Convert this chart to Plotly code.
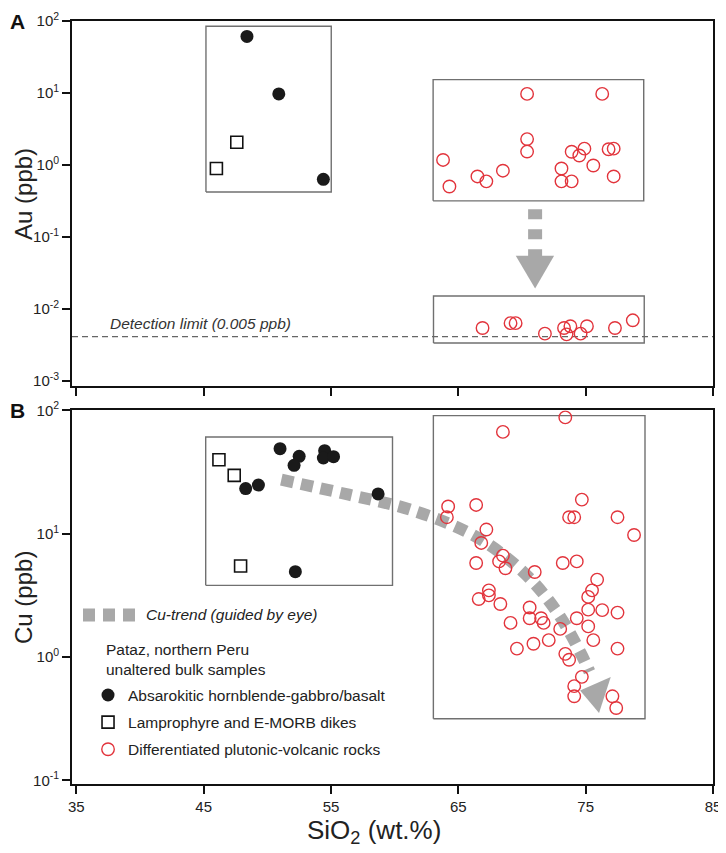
import plotly.graph_objects as go

# ---- data ----
# Panel A: Au (ppb) vs SiO2 (wt.%)
au_gabbro_sio2 = [48.4, 50.9, 54.4]
au_gabbro = [61.0, 9.7, 0.63]
au_dike_sio2 = [47.6, 46.0]
au_dike = [2.06, 0.89]
au_diff_sio2 = [63.8, 64.3, 66.5, 67.2, 68.5, 70.4, 70.4, 70.4, 73.1, 73.1,
                73.9, 73.9, 74.5, 74.9, 75.6, 76.3, 76.8, 77.2, 77.2,
                66.9, 69.1, 69.5, 71.8, 73.3, 73.5, 73.8, 74.6, 75.1, 77.3, 78.7]
au_diff = [1.17, 0.50, 0.69, 0.59, 0.83, 9.7, 2.28, 1.53, 0.89, 0.59,
           0.59, 1.52, 1.35, 1.68, 0.98, 9.7, 1.65, 1.68, 0.69,
           0.0054, 0.0063, 0.0063, 0.0045, 0.0054, 0.0044, 0.0057, 0.0045, 0.0057, 0.0054, 0.0069]
detection_limit = 0.0041

# Panel B: Cu (ppb) vs SiO2 (wt.%)
cu_gabbro_sio2 = [51.0, 52.5, 52.1, 48.3, 49.3, 54.5, 54.4, 55.2, 58.7, 52.2]
cu_gabbro = [48.9, 42.4, 35.8, 23.2, 24.8, 47.1, 41.1, 42.1, 21.0, 4.92]
cu_dike_sio2 = [46.2, 47.4, 47.9]
cu_dike = [39.8, 29.7, 5.47]
cu_diff_sio2 = [73.4, 68.5, 64.2, 66.4, 64.1, 74.7, 73.7, 74.1, 77.5, 78.8,
                67.2, 66.8, 68.5, 68.2, 66.4, 68.7, 71.0, 73.2, 74.3, 75.9,
                75.5, 75.2, 67.4, 67.4, 66.6, 68.3, 70.6, 75.2, 76.3, 77.5,
                69.1, 70.6, 71.5, 71.7, 74.3, 73.0, 75.2, 70.9, 72.1, 75.6,
                69.6, 73.4, 73.7, 77.5, 74.7, 74.1, 74.1, 77.1, 77.4]
cu_diff = [87.7, 66.9, 16.6, 17.1, 13.6, 18.9, 13.6, 13.6, 13.6, 9.75,
           10.8, 8.41, 6.64, 5.96, 5.78, 5.24, 4.89, 5.78, 5.96, 4.24,
           3.47, 3.07, 3.47, 3.16, 2.95, 2.69, 2.52, 2.42, 2.40, 2.29,
           1.89, 2.06, 2.06, 1.89, 2.06, 1.69, 1.77, 1.28, 1.37, 1.37,
           1.17, 1.06, 0.95, 1.17, 0.69, 0.58, 0.48, 0.48, 0.386]

# Cu trend (guided by eye)
trend_sio2 = [51.1, 56.4, 61.2, 65.8, 68.6, 71.0, 73.0, 74.6, 75.3]
trend_cu = [27.4, 20.7, 15.7, 10.2, 6.63, 3.93, 2.12, 1.08, 0.76]
trend_head_sio2 = [74.56, 76.97, 76.05]
trend_head_cu = [0.536, 0.689, 0.351]

# Au shift arrow (upper group -> detection limit)
shift_sio2 = [71.03, 71.03]
shift_au = [0.241, 0.054]
shift_head_sio2 = [69.51, 72.52, 71.03]
shift_head_au = [0.0543, 0.0543, 0.0191]

# group outlines: (x0, x1, y0, y1)
boxes_a = [(45.18, 55.02, 0.42, 84.5), (63.02, 79.56, 0.316, 15.3), (63.05, 79.6, 0.00334, 0.01503)]
boxes_b = [(45.16, 59.83, 3.81, 60.8), (63.04, 79.66, 0.316, 90.6)]

sio2_ticks = [35, 45, 55, 65, 75, 85]
au_tickvals = [0.001, 0.01, 0.1, 1, 10, 100]
au_ticktext = ["10<sup>-3</sup>", "10<sup>-2</sup>", "10<sup>-1</sup>", "10<sup>0</sup>", "10<sup>1</sup>", "10<sup>2</sup>"]
cu_tickvals = [0.1, 1, 10, 100]
cu_ticktext = ["10<sup>-1</sup>", "10<sup>0</sup>", "10<sup>1</sup>", "10<sup>2</sup>"]

FONT = "Liberation Sans, Arial, sans-serif"
RED = "#e2343c"
GREY = "#a8a8a8"
BOX = "#707070"
X_RANGE = [34.66, 85]

fig = go.Figure()


def add_box(box, xa, ya):
    x0, x1, y0, y1 = box
    fig.add_trace(go.Scatter(
        x=[x0, x1, x1, x0, x0], y=[y0, y0, y1, y1, y0], mode="lines",
        line=dict(color=BOX, width=1.4), xaxis=xa, yaxis=ya,
        showlegend=False, hoverinfo="skip",
    ))


for b in boxes_a:
    add_box(b, "x", "y")
for b in boxes_b:
    add_box(b, "x2", "y2")

# detection limit line
fig.add_trace(go.Scatter(
    x=X_RANGE, y=[detection_limit, detection_limit], mode="lines",
    line=dict(color="#666666", width=1.3, dash="6px,4px"),
    xaxis="x", yaxis="y", showlegend=False, hoverinfo="skip",
))

# arrows
fig.add_trace(go.Scatter(
    x=shift_sio2, y=shift_au, mode="lines",
    line=dict(color=GREY, width=14, dash="10px,10px"),
    xaxis="x", yaxis="y", showlegend=False, hoverinfo="skip",
))
fig.add_trace(go.Scatter(
    x=shift_head_sio2, y=shift_head_au, mode="lines", fill="toself",
    fillcolor=GREY, line=dict(width=0, color=GREY),
    xaxis="x", yaxis="y", showlegend=False, hoverinfo="skip",
))
fig.add_trace(go.Scatter(
    x=trend_sio2, y=trend_cu, mode="lines",
    line=dict(color=GREY, width=12, dash="12px,8px", shape="spline"),
    xaxis="x2", yaxis="y2", showlegend=False, hoverinfo="skip",
))
fig.add_trace(go.Scatter(
    x=trend_head_sio2, y=trend_head_cu, mode="lines", fill="toself",
    fillcolor=GREY, line=dict(width=0, color=GREY),
    xaxis="x2", yaxis="y2", showlegend=False, hoverinfo="skip",
))

gabbro_marker = dict(symbol="circle", size=13, color="#1a1a1a", line=dict(width=0))
dike_marker = dict(symbol="square-open", size=12, color="#111111", line=dict(width=1.6))
diff_marker = dict(symbol="circle-open", size=12.5, color=RED, line=dict(width=1.4))

# panel A points
fig.add_trace(go.Scatter(x=au_gabbro_sio2, y=au_gabbro, mode="markers", marker=gabbro_marker,
                         xaxis="x", yaxis="y", showlegend=False))
fig.add_trace(go.Scatter(x=au_dike_sio2, y=au_dike, mode="markers", marker=dike_marker,
                         xaxis="x", yaxis="y", showlegend=False))
fig.add_trace(go.Scatter(x=au_diff_sio2, y=au_diff, mode="markers", marker=diff_marker,
                         xaxis="x", yaxis="y", showlegend=False))

# panel B points (carry the legend)
fig.add_trace(go.Scatter(x=cu_gabbro_sio2, y=cu_gabbro, mode="markers", marker=gabbro_marker,
                         xaxis="x2", yaxis="y2", name="Absarokitic hornblende-gabbro/basalt",
                         legendgroup="g1"))
fig.add_trace(go.Scatter(x=cu_dike_sio2, y=cu_dike, mode="markers", marker=dike_marker,
                         xaxis="x2", yaxis="y2", name="Lamprophyre and E-MORB dikes",
                         legendgroup="g2"))
fig.add_trace(go.Scatter(x=cu_diff_sio2, y=cu_diff, mode="markers", marker=diff_marker,
                         xaxis="x2", yaxis="y2", name="Differentiated plutonic-volcanic rocks",
                         legendgroup="g3"))

axis_common = dict(
    showline=True, linecolor="#111111", linewidth=1.8, mirror=True,
    ticks="outside", ticklen=8, tickwidth=1.5, tickcolor="#111111",
    showgrid=False, zeroline=False, automargin=False, ticklabeloverflow="allow",
    tickfont=dict(family=FONT, size=15, color="#222222"),
)

# the page body adds an 8px margin, so the figure is 8px smaller than the window
fig.update_layout(
    width=718, height=845,
    margin=dict(l=64, r=13, t=13, b=69, autoexpand=False),
    paper_bgcolor="white", plot_bgcolor="white",
    font=dict(family=FONT, color="#222222"),
    xaxis=dict(axis_common, range=X_RANGE, tickvals=sio2_ticks, showticklabels=False,
               anchor="y", domain=[0, 1]),
    yaxis=dict(axis_common, type="log", range=[-3.08, 2], tickvals=au_tickvals,
               ticktext=au_ticktext, anchor="x", domain=[0.5211, 1]),
    xaxis2=dict(axis_common, range=X_RANGE, tickvals=sio2_ticks, anchor="y2", domain=[0, 1]),
    yaxis2=dict(axis_common, type="log", range=[-1.03, 2], tickvals=cu_tickvals,
                ticktext=cu_ticktext, anchor="x2", domain=[0, 0.4897]),
    legend=dict(
        x=0.025, y=0.1384, xanchor="left", yanchor="top",
        bgcolor="rgba(0,0,0,0)", borderwidth=0, tracegroupgap=4,
        font=dict(family=FONT, size=15.5, color="#222222"),
    ),
    annotations=[
        dict(text="<b>A</b>", xref="paper", yref="paper", x=-0.0998, y=1.017,
             xanchor="left", yanchor="top", showarrow=False,
             font=dict(family=FONT, size=21, color="#111111")),
        dict(text="<b>B</b>", xref="paper", yref="paper", x=-0.0998, y=0.5072,
             xanchor="left", yanchor="top", showarrow=False,
             font=dict(family=FONT, size=21, color="#111111")),
        dict(text="Au (ppb)", xref="paper", yref="paper", x=-0.0749, y=0.7733,
             xanchor="center", yanchor="middle", textangle=-90, showarrow=False,
             font=dict(family=FONT, size=24, color="#222222")),
        dict(text="Cu (ppb)", xref="paper", yref="paper", x=-0.0749, y=0.2451,
             xanchor="center", yanchor="middle", textangle=-90, showarrow=False,
             font=dict(family=FONT, size=24, color="#222222")),
        dict(text="SiO<sub>2</sub> (wt.%)", xref="paper", yref="paper", x=0.471, y=-0.0374,
             xanchor="center", yanchor="top", showarrow=False,
             font=dict(family=FONT, size=26, color="#222222")),
        dict(text="<i>Detection limit (0.005 ppb)</i>", xref="x", yref="y", x=37.5, y=-2.2,
             xanchor="left", yanchor="middle", showarrow=False,
             font=dict(family=FONT, size=15.5, color="#333333")),
        dict(text="<i>Cu-trend (guided by eye)</i>", xref="paper", yref="paper", x=0.1123, y=0.2215,
             xanchor="left", yanchor="middle", showarrow=False,
             font=dict(family=FONT, size=15.5, color="#222222")),
        dict(text="Pataz, northern Peru<br>unaltered bulk samples", xref="paper", yref="paper",
             x=0.0499, y=0.1638, xanchor="left", yanchor="middle", align="left", showarrow=False,
             font=dict(family=FONT, size=15.5, color="#222222")),
    ],
    shapes=[
        dict(type="line", xref="paper", yref="paper", x0=0.01716, x1=0.1014, y0=0.2215, y1=0.2215,
             line=dict(color=GREY, width=13, dash="12px,8px")),
    ],
)

fig.write_html("out.html")
